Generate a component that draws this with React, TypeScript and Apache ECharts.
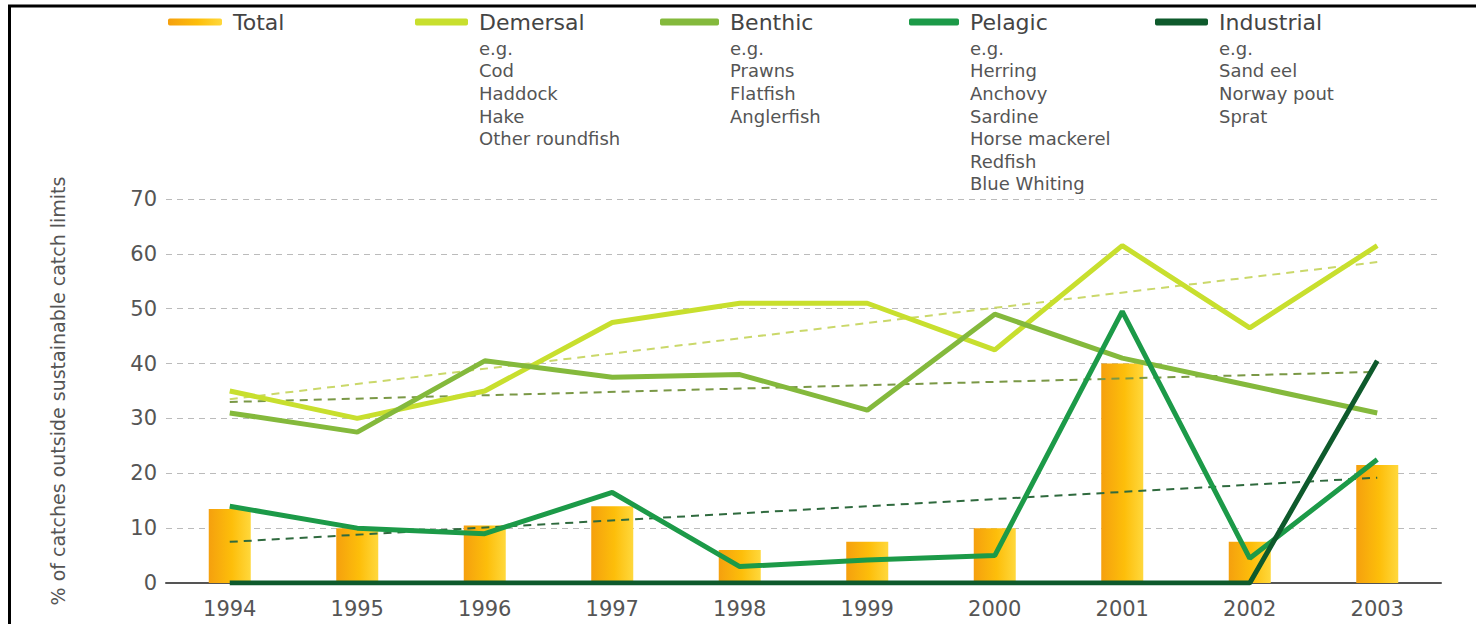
import React, { useEffect, useRef } from "react";
import * as echarts from "echarts";

const years = ["1994", "1995", "1996", "1997", "1998", "1999", "2000", "2001", "2002", "2003"];
const total = [13.5, 10, 10.5, 14, 6, 7.5, 10, 40, 7.5, 21.5];
const demersal = [35, 30, 35, 47.5, 51, 51, 42.5, 61.5, 46.5, 61.5];
const benthic = [31, 27.5, 40.5, 37.5, 38, 31.5, 49, 41, 36, 31];
const pelagic = [14, 10, 9, 16.5, 3, 4.2, 5, 49.5, 4.5, 22.5];
const industrial = [0, 0, 0, 0, 0, 0, 0, 0, 0, 40.5];
// trend lines: only the two end values
const demersalTrend = [33.5, null, null, null, null, null, null, null, null, 58.5];
const benthicTrend = [33, null, null, null, null, null, null, null, null, 38.5];
const pelagicTrend = [7.5, null, null, null, null, null, null, null, null, 19.2];

const yTicks = [0, 70, 10];
const yTitle = "% of catches outside sustainable catch limits";

const legendNames = ["Total", "Demersal", "Benthic", "Pelagic", "Industrial"];
const subLabels = [
  [],
  ["e.g.", "Cod", "Haddock", "Hake", "Other roundfish"],
  ["e.g.", "Prawns", "Flatfish", "Anglerfish"],
  ["e.g.", "Herring", "Anchovy", "Sardine", "Horse mackerel", "Redfish", "Blue Whiting"],
  ["e.g.", "Sand eel", "Norway pout", "Sprat"],
];

const FONT = "DejaVu Sans";
const C_DEM = "#C8DF2E";
const C_BEN = "#84B93C";
const C_PEL = "#1C9A48";
const C_IND = "#0E5A2C";

const barGrad = () =>
  new echarts.graphic.LinearGradient(0, 0, 1, 0, [
    { offset: 0, color: "#F5A00E" },
    { offset: 0.55, color: "#FDBE0A" },
    { offset: 1, color: "#FFD83C" },
  ]);

export default function App() {
  const ref = useRef<HTMLDivElement>(null);
  useEffect(() => {
    if (!ref.current) return;
    const chart = echarts.init(ref.current, null, { renderer: "svg" });

    const iconX = [168, 415, 660, 909, 1155];
    const textX = [233, 479, 730, 970, 1219];
    const colors: any[] = [barGrad(), C_DEM, C_BEN, C_PEL, C_IND];

    const legends = legendNames.map((n, i) => ({
      show: true,
      left: iconX[i],
      top: 11,
      padding: 0,
      itemWidth: textX[i] - iconX[i] - 11,
      itemHeight: 7,
      icon: "roundRect",
      selectedMode: false,
      data: [{ name: n, itemStyle: { color: colors[i] } }],
      textStyle: {
        fontFamily: FONT,
        fontSize: 22,
        color: "#444",
        padding: [0, 0, 0, 6],
      },
    }));

    const graphics: any[] = [
      {
        type: "rect",
        silent: true,
        shape: { x: 9.5, y: 6, width: 1600, height: 800 },
        style: { fill: "none", stroke: "#000", lineWidth: 3 },
      },
    ];
    subLabels.forEach((lines, i) => {
      if (!lines.length) return;
      graphics.push({
        type: "text",
        left: textX[i],
        top: 37,
        style: {
          text: lines.join("\n"),
          fontFamily: FONT,
          fontSize: 18,
          lineHeight: 22.6,
          fill: "#555",
        },
      });
    });

    const trend = (name: string, data: any[], color: string) => ({
      name,
      type: "line",
      data,
      connectNulls: true,
      showSymbol: false,
      symbol: "none",
      silent: true,
      lineStyle: { color, width: 2, type: [8, 6] },
      z: 3,
    });
    const main = (name: string, data: number[], color: string, z: number) => ({
      name,
      type: "line",
      data,
      showSymbol: false,
      symbol: "none",
      lineStyle: { color, width: 5 },
      itemStyle: { color },
      z,
    });

    chart.setOption({
      animation: false,
      backgroundColor: "#fff",
      legend: legends,
      graphic: graphics,
      grid: { left: 166, right: 35, top: 199, bottom: 41, containLabel: false },
      xAxis: {
        type: "category",
        data: years,
        boundaryGap: true,
        axisLine: { show: true, lineStyle: { color: "#555", width: 2 } },
        axisTick: { show: false },
        axisLabel: {
          fontFamily: FONT,
          fontSize: 21,
          color: "#555",
          margin: 15,
        },
      },
      yAxis: {
        type: "value",
        min: yTicks[0],
        max: yTicks[1],
        interval: yTicks[2],
        name: yTitle,
        nameLocation: "middle",
        nameGap: 99,
        nameTextStyle: { fontFamily: FONT, fontSize: 19, color: "#555" },
        axisLine: { show: false },
        axisTick: { show: false },
        axisLabel: { fontFamily: FONT, fontSize: 21, color: "#555", margin: 9 },
        splitLine: { show: true, lineStyle: { color: "#BBBBBB", width: 1, type: [6, 5] } },
      },
      series: [
        {
          name: "Total",
          type: "bar",
          data: total,
          barWidth: 42,
          itemStyle: { color: barGrad() },
          z: 2,
        },
        trend("Demersal trend", demersalTrend, "#CAD86A"),
        trend("Benthic trend", benthicTrend, "#7A9846"),
        trend("Pelagic trend", pelagicTrend, "#2F6A3E"),
        main("Demersal", demersal, C_DEM, 4),
        main("Benthic", benthic, C_BEN, 5),
        main("Pelagic", pelagic, C_PEL, 6),
        main("Industrial", industrial, C_IND, 7),
      ],
    });
    return () => chart.dispose();
  }, []);
  return (
    <div
      ref={ref}
      style={{ position: "absolute", left: 0, top: 0, width: 1476, height: 624 }}
    />
  );
}
